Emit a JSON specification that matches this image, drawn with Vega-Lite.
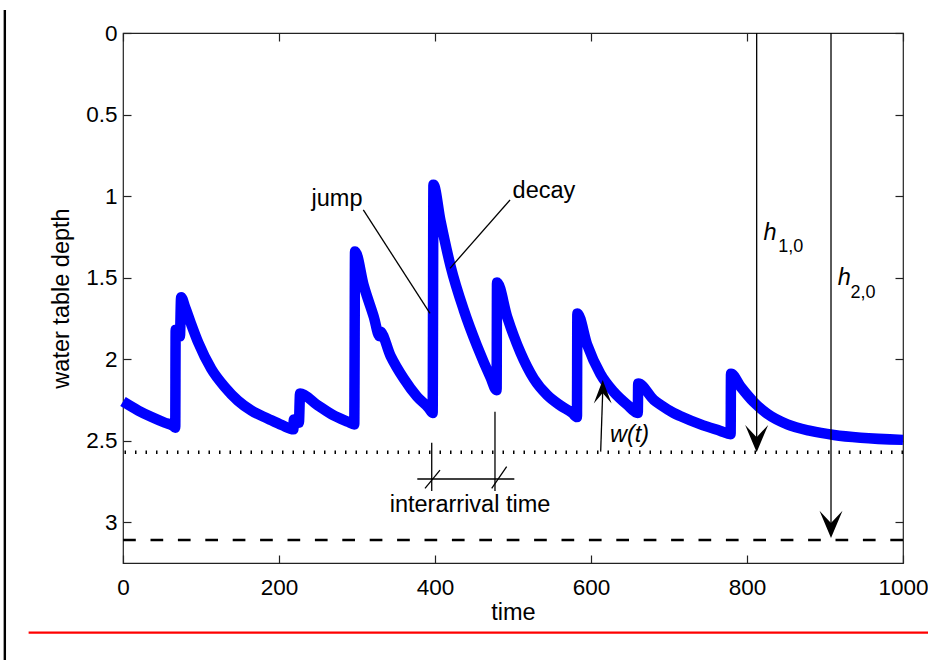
{
  "$schema": "https://vega.github.io/schema/vega-lite/v6.json",
  "width": 780,
  "height": 530,
  "autosize": "none",
  "padding": {"left": 123, "top": 33, "right": 25, "bottom": 97},
  "background": "white",
  "config": {
    "view": {"stroke": "#222222", "strokeWidth": 1.2},
    "font": "Liberation Sans",
    "axis": {
      "grid": false, "domain": false, "tickColor": "#222222", "tickWidth": 1.2, "tickSize": -8, "labelFlush": false,
      "labelFont": "Liberation Sans", "labelFontSize": 22.5, "labelColor": "#000000",
      "titleFont": "Liberation Sans", "titleFontSize": 23.5, "titleFontWeight": "normal", "titleColor": "#000000"
    },
    "text": {"font": "Liberation Sans", "fontSize": 23.5, "color": "#000000"}
  },
  "resolve": {"axis": {"x": "independent", "y": "independent"}},
  "datasets": {
    "curve": [
      {"t": 0, "depth": 2.26}, {"t": 19.6, "depth": 2.315}, {"t": 36.7, "depth": 2.355}, {"t": 53.8, "depth": 2.39},
      {"t": 64.5, "depth": 2.41}, {"t": 67, "depth": 2.42}, {"t": 67.5, "depth": 1.82}, {"t": 73, "depth": 1.86},
      {"t": 74.5, "depth": 1.62}, {"t": 79.5, "depth": 1.68}, {"t": 87, "depth": 1.78}, {"t": 96.6, "depth": 1.9}, {"t": 113.2, "depth": 2.06},
      {"t": 130.3, "depth": 2.17}, {"t": 147.4, "depth": 2.255}, {"t": 164.5, "depth": 2.315}, {"t": 185.9, "depth": 2.365},
      {"t": 204, "depth": 2.405}, {"t": 218.5, "depth": 2.43}, {"t": 219, "depth": 2.37}, {"t": 225.5, "depth": 2.39},
      {"t": 227, "depth": 2.21}, {"t": 248.8, "depth": 2.28}, {"t": 270, "depth": 2.345}, {"t": 289, "depth": 2.385},
      {"t": 296.5, "depth": 2.4}, {"t": 297.5, "depth": 1.34}, {"t": 308.7, "depth": 1.55}, {"t": 321.5, "depth": 1.74},
      {"t": 329, "depth": 1.86}, {"t": 329.5, "depth": 1.83}, {"t": 343, "depth": 1.98}, {"t": 360, "depth": 2.12},
      {"t": 377, "depth": 2.23}, {"t": 392, "depth": 2.3}, {"t": 397, "depth": 2.33}, {"t": 398, "depth": 0.93},
      {"t": 407, "depth": 1.15}, {"t": 420, "depth": 1.43}, {"t": 437, "depth": 1.7}, {"t": 454, "depth": 1.92},
      {"t": 471, "depth": 2.11}, {"t": 479, "depth": 2.19}, {"t": 479.5, "depth": 1.53}, {"t": 492.5, "depth": 1.74},
      {"t": 509.6, "depth": 1.96}, {"t": 526.7, "depth": 2.12}, {"t": 543.8, "depth": 2.22}, {"t": 561, "depth": 2.285},
      {"t": 576, "depth": 2.33}, {"t": 582, "depth": 2.355}, {"t": 582.5, "depth": 1.72}, {"t": 595, "depth": 1.91},
      {"t": 612, "depth": 2.09}, {"t": 629, "depth": 2.2}, {"t": 646.5, "depth": 2.28}, {"t": 660, "depth": 2.33},
      {"t": 660.5, "depth": 2.15}, {"t": 680.6, "depth": 2.25}, {"t": 689, "depth": 2.28}, {"t": 706, "depth": 2.33},
      {"t": 715, "depth": 2.35}, {"t": 740.5, "depth": 2.4}, {"t": 766, "depth": 2.44}, {"t": 779, "depth": 2.46},
      {"t": 779.5, "depth": 2.09}, {"t": 792, "depth": 2.17}, {"t": 809, "depth": 2.265}, {"t": 826, "depth": 2.335},
      {"t": 851.7, "depth": 2.4}, {"t": 881.6, "depth": 2.44}, {"t": 911.5, "depth": 2.465}, {"t": 945.7, "depth": 2.482},
      {"t": 1000, "depth": 2.495}
    ],
    "levels": [
      {"level": "h1,0", "depth": 2.571},
      {"level": "h2,0", "depth": 3.109}
    ],
    "shafts": [
      {"name": "h1,0", "t": 812.4, "t2": 812.4, "d": 0, "d2": 2.5},
      {"name": "h2,0", "t": 907.7, "t2": 907.7, "d": 0, "d2": 3.03},
      {"name": "w(t)", "t": 612.4, "t2": 615, "d": 2.567, "d2": 2.2}
    ],
    "downheads": [
      {"name": "h1,0", "t": 812.4, "d": 2.571},
      {"name": "h2,0", "t": 907.7, "d": 3.097}
    ],
    "upheads": [
      {"name": "w(t)", "t": 615, "d": 2.128}
    ],
    "segments": [
      {"name": "jump leader", "t": 308.1, "d": 1.085, "t2": 393.6, "d2": 1.719},
      {"name": "decay leader", "t": 496.2, "d": 1.024, "t2": 419.2, "d2": 1.443},
      {"name": "arrival 1", "t": 395.8, "d": 2.512, "t2": 395.8, "d2": 2.808},
      {"name": "arrival 2", "t": 476.9, "d": 2.322, "t2": 476.9, "d2": 2.808},
      {"name": "interarrival span", "t": 377.3, "d": 2.735, "t2": 501.7, "d2": 2.735},
      {"name": "mark 1", "t": 387.2, "d": 2.792, "t2": 406.4, "d2": 2.68},
      {"name": "mark 2", "t": 472.7, "d": 2.792, "t2": 491.9, "d2": 2.659}
    ],
    "labels": [
      {"text": "jump", "t": 274.4, "d": 1.061},
      {"text": "decay", "t": 539.7, "d": 1.014},
      {"text": "interarrival time", "t": 444.9, "d": 2.935}
    ],
    "italics": [
      {"text": "h", "t": 821.3, "d": 1.269},
      {"text": "h", "t": 916.5, "d": 1.545},
      {"text": "w(t)", "t": 624.4, "d": 2.508}
    ],
    "subscripts": [
      {"text": "1,0", "t": 840.1, "d": 1.341},
      {"text": "2,0", "t": 932.7, "d": 1.625}
    ],
    "page": [
      {"edge": "left rule", "t": -151.5, "t2": -151.5, "d": -0.141, "d2": 3.85},
      {"edge": "bottom rule", "t": -121, "t2": 1035, "d": 3.677, "d2": 3.677}
    ]
  },
  "layer": [
    {
      "data": {"name": "levels"},
      "transform": [{"filter": "datum.level === 'h1,0'"}],
      "mark": {"type": "rule", "color": "#000000", "strokeWidth": 3.5, "strokeDash": [1.5, 9]},
      "encoding": {
        "y": {"field": "depth", "type": "quantitative", "axis": null, "scale": {"domain": [0, 3.25], "reverse": true, "nice": false, "zero": false}}
      }
    },
    {
      "data": {"name": "levels"},
      "transform": [{"filter": "datum.level === 'h2,0'"}],
      "mark": {"type": "rule", "color": "#000000", "strokeWidth": 2.6, "strokeDash": [12.7, 14.7]},
      "encoding": {
        "y": {"field": "depth", "type": "quantitative", "axis": null, "scale": {"domain": [0, 3.25], "reverse": true, "nice": false, "zero": false}}
      }
    },
    {
      "data": {"name": "curve"},
      "mark": {"type": "line", "color": "#0000FF", "strokeWidth": 10.5, "strokeJoin": "round", "strokeCap": "butt", "interpolate": "monotone"},
      "encoding": {
        "x": {"field": "t", "type": "quantitative", "scale": {"domain": [0, 1000], "nice": false, "zero": false},
              "axis": {"orient": "bottom", "values": [0, 200, 400, 600, 800, 1000], "format": "d", "title": "time",
                       "labelBaseline": "alphabetic", "labelPadding": 39, "titleX": 390, "titleY": 56, "titleBaseline": "alphabetic", "titleAnchor": null}},
        "y": {"field": "depth", "type": "quantitative", "scale": {"domain": [0, 3.25], "reverse": true, "nice": false, "zero": false},
              "axis": {"orient": "left", "values": [0, 0.5, 1, 1.5, 2, 2.5, 3], "format": "~g", "title": "water table depth",
                       "labelPadding": 14, "titleX": -55, "titleY": 265, "titleAngle": -90, "titleBaseline": "alphabetic", "titleAlign": "center", "titleAnchor": null}}
      }
    },
    {
      "data": {"name": "shafts"},
      "mark": {"type": "rule", "color": "#000000", "strokeWidth": 1.3},
      "encoding": {
        "x": {"field": "t", "type": "quantitative", "scale": {"domain": [0, 1000], "nice": false, "zero": false},
              "axis": {"orient": "top", "values": [0, 200, 400, 600, 800, 1000], "labels": false, "title": null}},
        "x2": {"field": "t2"},
        "y": {"field": "d", "type": "quantitative", "scale": {"domain": [0, 3.25], "reverse": true, "nice": false, "zero": false},
              "axis": {"orient": "right", "values": [0, 0.5, 1, 1.5, 2, 2.5, 3], "labels": false, "title": null}},
        "y2": {"field": "d2"}
      }
    },
    {
      "data": {"name": "downheads"},
      "mark": {"type": "point", "shape": "M0,0L-0.42,-1L0,-0.55L0.42,-1Z", "size": 3000, "filled": true, "color": "#000000", "opacity": 1, "strokeWidth": 0},
      "encoding": {
        "x": {"field": "t", "type": "quantitative", "axis": null, "scale": {"domain": [0, 1000], "nice": false, "zero": false}},
        "y": {"field": "d", "type": "quantitative", "axis": null, "scale": {"domain": [0, 3.25], "reverse": true, "nice": false, "zero": false}}
      }
    },
    {
      "data": {"name": "upheads"},
      "mark": {"type": "point", "shape": "M0,0L-0.38,1L0,0.55L0.38,1Z", "size": 2200, "filled": true, "color": "#000000", "opacity": 1, "strokeWidth": 0},
      "encoding": {
        "x": {"field": "t", "type": "quantitative", "axis": null, "scale": {"domain": [0, 1000], "nice": false, "zero": false}},
        "y": {"field": "d", "type": "quantitative", "axis": null, "scale": {"domain": [0, 3.25], "reverse": true, "nice": false, "zero": false}}
      }
    },
    {
      "data": {"name": "segments"},
      "mark": {"type": "rule", "color": "#000000", "strokeWidth": 1.3},
      "encoding": {
        "x": {"field": "t", "type": "quantitative", "axis": null, "scale": {"domain": [0, 1000], "nice": false, "zero": false}},
        "x2": {"field": "t2"},
        "y": {"field": "d", "type": "quantitative", "axis": null, "scale": {"domain": [0, 3.25], "reverse": true, "nice": false, "zero": false}},
        "y2": {"field": "d2"}
      }
    },
    {
      "data": {"name": "labels"},
      "mark": {"type": "text", "align": "center", "baseline": "alphabetic", "fontSize": 23.5, "color": "#000000"},
      "encoding": {
        "x": {"field": "t", "type": "quantitative", "axis": null, "scale": {"domain": [0, 1000], "nice": false, "zero": false}},
        "y": {"field": "d", "type": "quantitative", "axis": null, "scale": {"domain": [0, 3.25], "reverse": true, "nice": false, "zero": false}},
        "text": {"field": "text"}
      }
    },
    {
      "data": {"name": "italics"},
      "mark": {"type": "text", "align": "left", "baseline": "alphabetic", "fontSize": 23.5, "fontStyle": "italic", "color": "#000000"},
      "encoding": {
        "x": {"field": "t", "type": "quantitative", "axis": null, "scale": {"domain": [0, 1000], "nice": false, "zero": false}},
        "y": {"field": "d", "type": "quantitative", "axis": null, "scale": {"domain": [0, 3.25], "reverse": true, "nice": false, "zero": false}},
        "text": {"field": "text"}
      }
    },
    {
      "data": {"name": "subscripts"},
      "mark": {"type": "text", "align": "left", "baseline": "alphabetic", "fontSize": 18, "color": "#000000"},
      "encoding": {
        "x": {"field": "t", "type": "quantitative", "axis": null, "scale": {"domain": [0, 1000], "nice": false, "zero": false}},
        "y": {"field": "d", "type": "quantitative", "axis": null, "scale": {"domain": [0, 3.25], "reverse": true, "nice": false, "zero": false}},
        "text": {"field": "text"}
      }
    },
    {
      "data": {"name": "page"},
      "mark": {"type": "rule", "strokeWidth": 2.4},
      "encoding": {
        "x": {"field": "t", "type": "quantitative", "axis": null, "scale": {"domain": [0, 1000], "nice": false, "zero": false}},
        "x2": {"field": "t2"},
        "y": {"field": "d", "type": "quantitative", "axis": null, "scale": {"domain": [0, 3.25], "reverse": true, "nice": false, "zero": false}},
        "y2": {"field": "d2"},
        "color": {"field": "edge", "type": "nominal", "legend": null, "scale": {"domain": ["left rule", "bottom rule"], "range": ["#000000", "#FF0000"]}}
      }
    }
  ]
}
